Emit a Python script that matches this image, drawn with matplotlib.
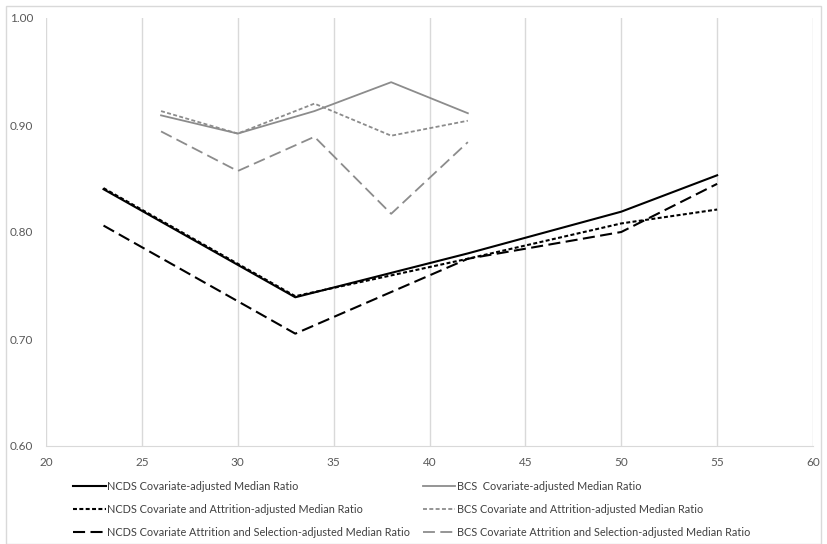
import matplotlib
matplotlib.use('Agg')
import matplotlib.pyplot as plt
from matplotlib.patches import Rectangle
from matplotlib.ticker import FormatStrFormatter

# ages and median ratios
ncds_age = [23, 33, 42, 50, 55]
ncds_cov = [0.840, 0.739, 0.780, 0.819, 0.853]
ncds_cov_attr = [0.841, 0.740, 0.775, 0.808, 0.821]
ncds_cov_attr_sel = [0.806, 0.705, 0.775, 0.800, 0.845]

bcs_age = [26, 30, 34, 38, 42]
bcs_cov = [0.909, 0.892, 0.913, 0.940, 0.911]
bcs_cov_attr = [0.913, 0.892, 0.920, 0.890, 0.904]
bcs_cov_attr_sel = [0.894, 0.857, 0.889, 0.817, 0.884]

ncds_labels = ['NCDS Covariate-adjusted Median Ratio',
               'NCDS Covariate and Attrition-adjusted Median Ratio',
               'NCDS Covariate Attrition and Selection-adjusted Median Ratio']
bcs_labels = ['BCS  Covariate-adjusted Median Ratio',
              'BCS Covariate and Attrition-adjusted Median Ratio',
              'BCS Covariate Attrition and Selection-adjusted Median Ratio']

plt.rcParams['font.family'] = ['Lato', 'DejaVu Sans']

W, H = 827, 544
fig = plt.figure(figsize=(W / 100, H / 100), dpi=100)
ax = fig.add_axes([46 / W, 1 - 446 / H, (813 - 46) / W, (446 - 18) / H])

black = '#000000'
grey = '#8c8c8c'
dotted_k = (0, (1.9, 1.15))
dashed_k = (0, (5.8, 2.6))
dotted_g = (0, (2.2, 1.3))
dashed_g = (0, (6.6, 3.0))

h1 = ax.plot(ncds_age, ncds_cov, color=black, lw=1.5, linestyle='-')[0]
h2 = ax.plot(ncds_age, ncds_cov_attr, color=black, lw=1.5, linestyle=dotted_k)[0]
h3 = ax.plot(ncds_age, ncds_cov_attr_sel, color=black, lw=1.5, linestyle=dashed_k)[0]
g1 = ax.plot(bcs_age, bcs_cov, color=grey, lw=1.3, linestyle='-')[0]
g2 = ax.plot(bcs_age, bcs_cov_attr, color=grey, lw=1.3, linestyle=dotted_g)[0]
g3 = ax.plot(bcs_age, bcs_cov_attr_sel, color=grey, lw=1.3, linestyle=dashed_g)[0]

ax.set_xlim(20, 60)
ax.set_ylim(0.60, 1.00)
ax.set_xticks(range(20, 61, 5))
ax.set_yticks([0.60, 0.70, 0.80, 0.90, 1.00])
ax.yaxis.set_major_formatter(FormatStrFormatter('%.2f'))
ax.grid(axis='x', color='#d9d9d9', lw=1)
ax.set_axisbelow(True)
for s in ['top', 'right', 'left']:
    ax.spines[s].set_visible(False)
ax.spines['bottom'].set_color('#d9d9d9')
ax.tick_params(length=0, labelsize=8.5, labelcolor='#595959')
ax.tick_params(axis='y', pad=9)
ax.tick_params(axis='x', pad=8)

# two legend columns under the plot
leg_kw = dict(frameon=False, fontsize=7.8, handlelength=3.0, handletextpad=0.15,
              labelspacing=1.1, borderaxespad=0, borderpad=0, labelcolor='#404040')
fig.legend([h1, h2, h3], ncds_labels, loc='upper left',
           bbox_to_anchor=(73 / W, 1 - 481 / H), **leg_kw)
fig.legend([g1, g2, g3], bcs_labels, loc='upper left',
           bbox_to_anchor=(423 / W, 1 - 481 / H), **leg_kw)

# light frame round the chart
fig.patches.append(Rectangle((6 / W, 0.5 / H), (W - 6.5) / W - 6 / W, (H - 6) / H - 0.5 / H,
                             transform=fig.transFigure, fill=False,
                             edgecolor='#d9d9d9', lw=1))

fig.savefig('out.png', dpi=100)
